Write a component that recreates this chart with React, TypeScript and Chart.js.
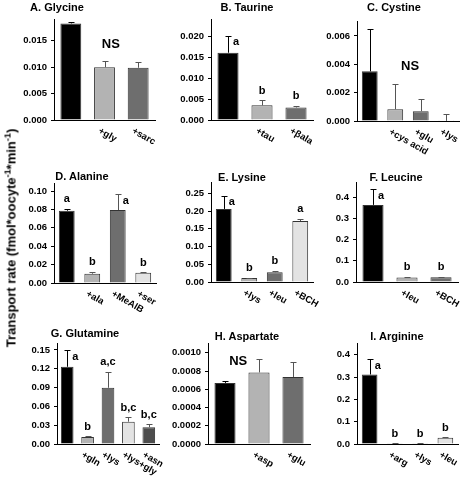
import React, { useEffect, useRef } from 'react';
import { Chart, registerables } from 'chart.js';

Chart.register(...registerables);

const FONT = "'Liberation Sans', Arial, sans-serif";
const BLACK = '#000000';
const LIGHT = '#b3b3b3';
const DARK = '#6e6e6e';
const PALE = '#e3e3e3';
const DEEP = '#4d4d4d';

// A. Glycine
const catsA = ['', '+gly', '+sarc'];
const valsA = [0.0183, 0.01, 0.0099];
const errA = [0.0003, 0.0011, 0.001];
const sigA = ['', '', ''];
const ticksA = [0, 0.005, 0.01, 0.015];
const tickLabelsA = ['0.000', '0.005', '0.010', '0.015'];

// B. Taurine
const catsB = ['', '+tau', '+\u03b2ala'];
const valsB = [0.0161, 0.0035, 0.003];
const errB = [0.0041, 0.0012, 0.00045];
const sigB = ['a', 'b', 'b'];
const ticksB = [0, 0.005, 0.01, 0.015, 0.02];
const tickLabelsB = ['0.000', '0.005', '0.010', '0.015', '0.020'];

// C. Cystine
const catsC = ['', '+cys acid', '+glu', '+lys'];
const valsC = [0.0035, 0.00083, 0.00069, 0.00001];
const errC = [0.003, 0.0018, 0.00083, 0.00047];
const sigC = ['', '', '', ''];
const ticksC = [0, 0.002, 0.004, 0.006];
const tickLabelsC = ['0.000', '0.002', '0.004', '0.006'];

// D. Alanine
const catsD = ['', '+ala', '+MeAIB', '+ser'];
const valsD = [0.0786, 0.0101, 0.0793, 0.0111];
const errD = [0.0022, 0.0019, 0.0171, 0.0007];
const sigD = ['a', 'b', 'a', 'b'];
const ticksD = [0, 0.02, 0.04, 0.06, 0.08, 0.1];
const tickLabelsD = ['0.00', '0.02', '0.04', '0.06', '0.08', '0.10'];

// E. Lysine
const catsE = ['', '+lys', '+leu', '+BCH'];
const valsE = [0.206, 0.011, 0.0276, 0.172];
const errE = [0.037, 0.001, 0.0044, 0.006];
const sigE = ['a', 'b', 'b', 'a'];
const ticksE = [0, 0.05, 0.1, 0.15, 0.2, 0.25];
const tickLabelsE = ['0.00', '0.05', '0.10', '0.15', '0.20', '0.25'];

// F. Leucine
const catsF = ['', '+leu', '+BCH'];
const valsF = [0.365, 0.021, 0.023];
const errF = [0.074, 0.005, 0.002];
const sigF = ['a', 'b', 'b'];
const ticksF = [0, 0.1, 0.2, 0.3, 0.4];
const tickLabelsF = ['0.0', '0.1', '0.2', '0.3', '0.4'];

// G. Glutamine
const catsG = ['', '+gln', '+lys', '+lys+gly', '+asn'];
const valsG = [0.1232, 0.011, 0.0897, 0.0356, 0.0268];
const errG = [0.0263, 0.001, 0.0257, 0.0069, 0.0047];
const sigG = ['a', 'b', 'a,c', 'b,c', 'b,c'];
const ticksG = [0, 0.03, 0.06, 0.09, 0.12, 0.15];
const tickLabelsG = ['0.00', '0.03', '0.06', '0.09', '0.12', '0.15'];

// H. Aspartate
const catsH = ['', '+asp', '+glu'];
const valsH = [0.00067, 0.000785, 0.000735];
const errH = [0.00002, 0.000145, 0.000165];
const sigH = ['', '', ''];
const ticksH = [0, 0.0002, 0.0004, 0.0006, 0.0008, 0.001];
const tickLabelsH = ['0.0000', '0.0002', '0.0004', '0.0006', '0.0008', '0.0010'];

// I. Arginine
const catsI = ['', '+arg', '+lys', '+leu'];
const valsI = [0.312, 0.003, 0.003, 0.028];
const errI = [0.069, 0.0005, 0.0005, 0.002];
const sigI = ['a', 'b', 'b', 'b'];
const ticksI = [0, 0.1, 0.2, 0.3, 0.4];
const tickLabelsI = ['0.0', '0.1', '0.2', '0.3', '0.4'];

const panels = [
  { title: 'A. Glycine', cats: catsA, vals: valsA, err: errA, sig: sigA, ticks: ticksA, tickLabels: tickLabelsA, max: 0.019, colors: [BLACK, LIGHT, DARK], ns: { at: 1.19, value: 0.0144 } },
  { title: 'B. Taurine', cats: catsB, vals: valsB, err: errB, sig: sigB, ticks: ticksB, tickLabels: tickLabelsB, max: 0.024, colors: [BLACK, LIGHT, DARK], ns: null },
  { title: 'C. Cystine', cats: catsC, vals: valsC, err: errC, sig: sigC, ticks: ticksC, tickLabels: tickLabelsC, max: 0.007, colors: [BLACK, LIGHT, DARK, PALE], ns: { at: 1.58, value: 0.00384 } },
  { title: 'D. Alanine', cats: catsD, vals: valsD, err: errD, sig: sigD, ticks: ticksD, tickLabels: tickLabelsD, max: 0.108, colors: [BLACK, LIGHT, DARK, PALE], ns: null },
  { title: 'E. Lysine', cats: catsE, vals: valsE, err: errE, sig: sigE, ticks: ticksE, tickLabels: tickLabelsE, max: 0.28, colors: [BLACK, LIGHT, DARK, PALE], ns: null },
  { title: 'F. Leucine', cats: catsF, vals: valsF, err: errF, sig: sigF, ticks: ticksF, tickLabels: tickLabelsF, max: 0.47, colors: [BLACK, LIGHT, DARK], ns: null },
  { title: 'G. Glutamine', cats: catsG, vals: valsG, err: errG, sig: sigG, ticks: ticksG, tickLabels: tickLabelsG, max: 0.16, colors: [BLACK, LIGHT, DARK, PALE, DEEP], ns: null },
  { title: 'H. Aspartate', cats: catsH, vals: valsH, err: errH, sig: sigH, ticks: ticksH, tickLabels: tickLabelsH, max: 0.0011, colors: [BLACK, LIGHT, DARK], ns: { at: 0.39, value: 0.000904 } },
  { title: 'I. Arginine', cats: catsI, vals: valsI, err: errI, sig: sigI, ticks: ticksI, tickLabels: tickLabelsI, max: 0.45, colors: [BLACK, LIGHT, DARK, PALE], ns: null },
];

// layout: plot-area edges (left, right, top, zero line) and title centre
const boxes = [
  { L: 54, R: 155, T: 18, Z: 120, tx: 57, ty: 7 },
  { L: 211, R: 313, T: 18, Z: 120, tx: 247, ty: 7 },
  { L: 357, R: 459, T: 20, Z: 121, tx: 394, ty: 7 },
  { L: 54, R: 156, T: 182, Z: 283, tx: 82, ty: 176 },
  { L: 211, R: 313, T: 181, Z: 282, tx: 242, ty: 177 },
  { L: 356, R: 458, T: 181, Z: 282, tx: 396, ty: 177 },
  { L: 57, R: 159, T: 342, Z: 444, tx: 85, ty: 333 },
  { L: 208, R: 310, T: 342, Z: 444, tx: 247, ty: 336 },
  { L: 357, R: 458, T: 342, Z: 444, tx: 397, ty: 336 },
];

const PAD_L = 50;
const PAD_T = 8;
const PAD_R = 8;
const PAD_B = 45;

function decorPlugin(p: any) {
  return {
    id: 'decor',
    afterDatasetsDraw(chart: any) {
      const ctx = chart.ctx;
      const ys = chart.scales.y;
      const xs = chart.scales.x;
      const area = chart.chartArea;
      const meta = chart.getDatasetMeta(0);
      const zero = ys.getPixelForValue(0);
      ctx.save();
      meta.data.forEach((bar: any, i: number) => {
        const x = Math.round(bar.x) + 0.5;
        const barTop = ys.getPixelForValue(p.vals[i]);
        const errTop = ys.getPixelForValue(p.vals[i] + p.err[i]);
        const capY = Math.round(errTop) + 0.5;
        ctx.strokeStyle = i === 0 ? '#000' : '#555';
        ctx.lineWidth = 1;
        ctx.beginPath();
        ctx.moveTo(x, barTop);
        ctx.lineTo(x, capY);
        ctx.moveTo(x - 3, capY);
        ctx.lineTo(x + 3, capY);
        ctx.stroke();

        const s = p.sig[i];
        if (s) {
          ctx.font = `bold 11px ${FONT}`;
          ctx.fillStyle = '#000';
          ctx.textBaseline = 'alphabetic';
          if (errTop - area.top < 18) {
            ctx.textAlign = 'left';
            ctx.fillText(s, bar.x + 5, errTop + 9.5);
          } else {
            ctx.textAlign = 'center';
            ctx.fillText(s, bar.x, errTop - 6.5);
          }
        }

        const lab = p.cats[i];
        if (lab) {
          ctx.save();
          ctx.translate(bar.x - 3, zero + 6);
          ctx.rotate(Math.PI / 6);
          ctx.font = `bold 9.5px ${FONT}`;
          ctx.fillStyle = '#000';
          ctx.textAlign = 'left';
          ctx.textBaseline = 'top';
          ctx.fillText(lab, 0, 0);
          ctx.restore();
        }
      });
      if (p.ns) {
        ctx.font = `bold 13px ${FONT}`;
        ctx.fillStyle = '#000';
        ctx.textAlign = 'center';
        ctx.textBaseline = 'middle';
        ctx.fillText('NS', xs.getPixelForValue(p.ns.at), ys.getPixelForValue(p.ns.value));
      }
      ctx.restore();
    },
  };
}

function Panel({ p, b }: { p: any; b: any }) {
  const ref = useRef<HTMLCanvasElement | null>(null);
  const w = b.R - b.L + PAD_L + PAD_R;
  const h = b.Z - b.T + PAD_T + PAD_B;
  useEffect(() => {
    if (!ref.current) return;
    const chart = new Chart(ref.current, {
      type: 'bar',
      data: {
        labels: p.cats,
        datasets: [
          {
            data: p.vals,
            backgroundColor: p.colors,
            borderColor: '#333',
            borderWidth: 1,
            barPercentage: 0.62,
            categoryPercentage: 1,
          },
        ],
      },
      options: {
        responsive: false,
        animation: false,
        devicePixelRatio: 1,
        layout: { padding: { top: PAD_T, right: PAD_R, left: 0, bottom: 0 } },
        plugins: { legend: { display: false }, tooltip: { enabled: false }, title: { display: false } },
        scales: {
          x: {
            type: 'category',
            offset: true,
            grid: { display: false },
            border: { display: true, color: '#000', width: 1 },
            ticks: { display: false },
            afterFit: (s: any) => {
              s.height = PAD_B;
            },
          },
          y: {
            type: 'linear',
            min: 0,
            max: p.max,
            grid: { display: true, drawOnChartArea: false, drawTicks: true, tickLength: 3, color: '#000' },
            border: { display: true, color: '#000', width: 1 },
            ticks: {
              color: '#000',
              padding: 4,
              font: { family: FONT, size: 9.5, weight: 'bold' },
              callback: (_v: any, i: number) => p.tickLabels[i],
            },
            afterBuildTicks: (s: any) => {
              s.ticks = p.ticks.map((v: number) => ({ value: v }));
            },
            afterFit: (s: any) => {
              s.width = PAD_L;
            },
          },
        },
      } as any,
      plugins: [decorPlugin(p)],
    });
    return () => chart.destroy();
  }, []);
  return (
    <>
      <div style={{ position: 'absolute', left: b.L - PAD_L, top: b.T - PAD_T, width: w, height: h }}>
        <canvas ref={ref} width={w} height={h} style={{ width: w, height: h, display: 'block' }} />
      </div>
      <div
        style={{
          position: 'absolute',
          left: b.tx,
          top: b.ty,
          transform: 'translate(-50%, -50%)',
          font: `bold 11px ${FONT}`,
          lineHeight: 1,
          whiteSpace: 'nowrap',
          color: '#000',
        }}
      >
        {p.title}
      </div>
    </>
  );
}

export default function App() {
  return (
    <div style={{ position: 'absolute', left: 0, top: 0, width: 470, height: 480, background: '#fff', overflow: 'hidden' }}>
      {panels.map((p, i) => (
        <Panel key={i} p={p} b={boxes[i]} />
      ))}
      <div
        style={{
          position: 'absolute',
          left: 11,
          top: 238,
          transform: 'translate(-50%, -50%) rotate(-90deg)',
          font: `bold 13px ${FONT}`,
          lineHeight: 1,
          whiteSpace: 'nowrap',
          color: '#000',
        }}
      >
        Transport rate (fmol*oocyte<sup style={{ fontSize: '0.7em', lineHeight: 0 }}>-1</sup>*min
        <sup style={{ fontSize: '0.7em', lineHeight: 0 }}>-1</sup>)
      </div>
    </div>
  );
}
